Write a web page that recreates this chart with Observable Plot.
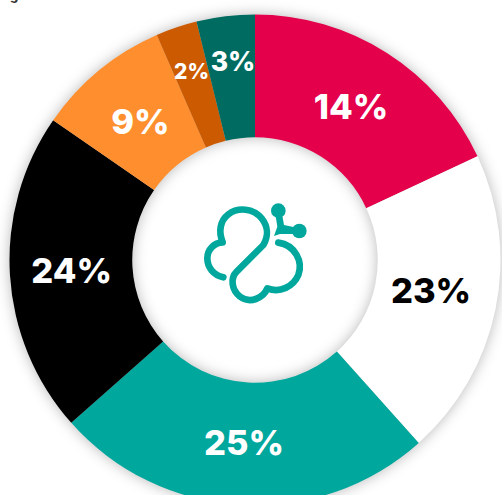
<!DOCTYPE html>
<html><head><meta charset="utf-8">
<script src="https://cdn.jsdelivr.net/npm/d3@7"></script>
<script src="https://cdn.jsdelivr.net/npm/@observablehq/plot@0.6"></script>
<style>html,body{margin:0;padding:0;background:#fff;overflow:hidden}</style>
</head><body><div id="chart"></div>
<script>
const names = ["a","b","c","d","e","f","g"];
const shares = [18.06, 20.32, 25.08, 21.18, 8.81, 2.72, 3.83];
const colors = ["#e4004b","#ffffff","#00a79d","#000000","#ff8f2e","#cc5a00","#006b60"];
const labels = ["14%","23%","25%","24%","9%","2%","3%","g"];
const labelAngle = [8.9, 27.8, 51.0, 74.05, 88.9, 94.8, 98.2, 88.25];
const labelRadius = [0.734, 0.726, 0.75, 0.75, 0.73, 0.811, 0.81, 1.46];
const labelSize = [34.5, 34.5, 34.5, 34.5, 34.5, 21, 26.5, 13];
const labelColor = ["#fff","#000","#fff","#fff","#fff","#fff","#fff","#333"];

const logoPath = "M130 292C100 285 82 262 82 235C82 208 103 188 128 187C115 155 120 122 145 103C175 80 220 85 245 115C265 140 265 170 250 195L170 275C150 295 155 330 180 350C210 372 250 355 262 325C300 340 340 320 355 285C370 245 345 195 295 188";

const slices = names.map((name, i) => ({name, share: shares[i], color: colors[i]}));
const texts = labels.map((label, i) => ({label, angle: labelAngle[i], radius: labelRadius[i], size: labelSize[i], color: labelColor[i]}));

const cx = 255, cy = 260, innerFrac = 0.5;

function polarSlices(index, scales, values, dims, ctx) {
  const arc = d3.arc();
  const g = d3.select(ctx.document.createElementNS("http://www.w3.org/2000/svg","g"))
    .attr("transform", `translate(${cx},${cy})`)
    .style("filter","drop-shadow(0 0 7px rgba(0,0,0,0.28))");
  for (const i of index) {
    g.append("path")
      .attr("fill", values.fill ? values.fill[i] : slices[i].color)
      .attr("d", arc({innerRadius: scales.y(innerFrac), outerRadius: scales.y(1), startAngle: values.x1[i], endAngle: values.x2[i]}));
  }
  return g.node();
}
function polarText(index, scales, values, dims, ctx, next) {
  const x = Array.from(values.x, (a, i) => cx + values.y[i] * Math.sin(a));
  const y = Array.from(values.x, (a, i) => cy - values.y[i] * Math.cos(a));
  return next(index, scales, {...values, x, y}, dims, ctx);
}
function logoMark(index, scales, values, dims, ctx) {
  const g = d3.select(ctx.document.createElementNS("http://www.w3.org/2000/svg","g"))
    .attr("transform","translate(180,180) scale(0.3333)");
  g.append("path").attr("d",logoPath).attr("fill","none").attr("stroke","#00a79d").attr("stroke-width",20).attr("stroke-linecap","round").attr("stroke-linejoin","round");
  g.append("path").attr("d","M285 95L305 95L312 135L358 145L358 162L300 162L282 168L292 140Z").attr("fill","#00a79d");
  g.append("circle").attr("cx",295).attr("cy",92).attr("r",22).attr("fill","#00a79d");
  g.append("circle").attr("cx",358).attr("cy",153).attr("r",22).attr("fill","#00a79d");
  return g.node();
}

const chart = Plot.plot({
  width: 502, height: 495, margin: 0,
  style: {background: "#fff", overflow: "hidden"},
  x: {domain: [0, 100], range: [0, 2 * Math.PI], axis: null},
  y: {domain: [0, 1], range: [0, 245.5], axis: null},
  color: {type: "identity"},
  marks: [
    Plot.barX(slices, Plot.stackX({x: "share", fill: "color", render: polarSlices})),
    Plot.text(texts, {x: "angle", y: "radius", text: "label", fill: "color", fontSize: "size",
      fontFamily: "Inter", fontWeight: 800, textAnchor: "middle", frameAnchor: "middle", lineAnchor: "middle", render: polarText}),
    Plot.dot([0], {x: 0, y: 0, r: 0, render: logoMark})
  ]
});
document.getElementById("chart").appendChild(chart);
</script></body></html>
